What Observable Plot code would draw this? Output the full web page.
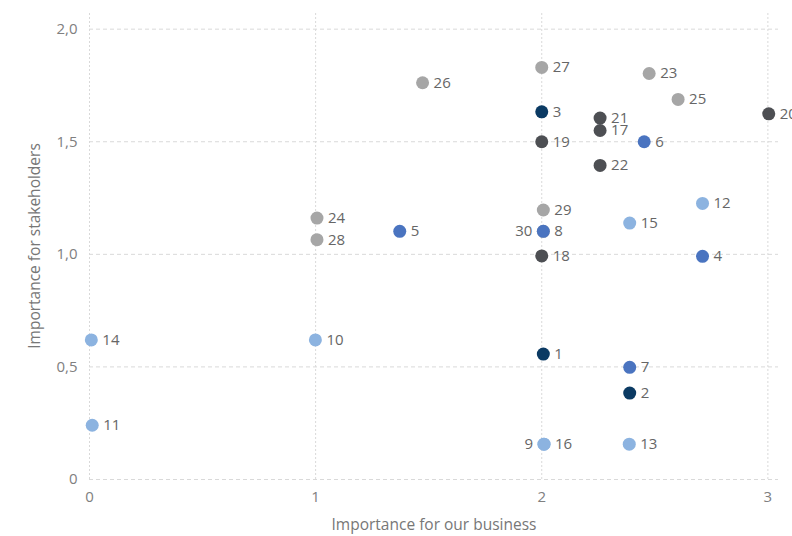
<!DOCTYPE html>
<html>
<head>
<meta charset="utf-8">
<script src="https://cdn.jsdelivr.net/npm/d3@7"></script>
<script src="https://cdn.jsdelivr.net/npm/@observablehq/plot@0.6"></script>
<style>
  html, body { margin: 0; padding: 0; background: #fff; }
  #chart svg { display: block; overflow: visible; }
</style>
</head>
<body>
<div id="chart"></div>
<script>
// Topic ids, business importance (x), stakeholder importance (y), group
const ids      = [1, 2, 3, 4, 5, 6, 7, 8, 9, 10, 11, 12, 13, 14, 15, 16, 17, 18, 19, 20, 21, 22, 23, 24, 25, 26, 27, 28, 29, 30];
const business = [2.007, 2.389, 2.0, 2.711, 1.372, 2.453, 2.389, 2.007, 2.01, 0.999, 0.012, 2.711, 2.387, 0.008, 2.389, 2.01,
                  2.258, 2.0, 2.0, 3.004, 2.258, 2.258, 2.475, 1.006, 2.603, 1.473, 2.0, 1.006, 2.007, 2.007];
const stakeholders = [0.557, 0.384, 1.633, 0.991, 1.102, 1.5, 0.498, 1.102, 0.157, 0.62, 0.241, 1.226, 0.157, 0.62, 1.139, 0.157,
                  1.55, 0.993, 1.5, 1.624, 1.605, 1.395, 1.803, 1.161, 1.688, 1.762, 1.83, 1.065, 1.197, 1.102];
const groups   = ["A","A","A","B","B","B","B","B","C","C","C","C","C","C","C","C",
                  "D","D","D","D","D","D","E","E","E","E","E","E","E","E"];
const leftLabelIds = [9, 30];
const groupNames  = ["A", "B", "C", "D", "E"];
const groupColors = ["#0b3a63", "#4a74c0", "#8cb3e0", "#4d4f53", "#a6a6a6"];
const drawOrder   = ["E", "D", "C", "B", "A"];

const xTicks = [0, 1, 2, 3];
const xTickLabels = ["0", "1", "2", "3"];
const yTicks = [0, 0.5, 1, 1.5, 2];
const yTickLabels = ["0", "0,5", "1,0", "1,5", "2,0"];
const xTitle = "Importance for our business";
const yTitle = "Importance for stakeholders";

const data = ids.map((id, i) => ({id, x: business[i], y: stakeholders[i], g: groups[i], left: leftLabelIds.includes(id)}))
  .sort((a, b) => drawOrder.indexOf(a.g) - drawOrder.indexOf(b.g));

const font = "Open Sans, Lato, sans-serif";

const plot = Plot.plot({
  width: 792,
  height: 536,
  marginLeft: 89,
  marginRight: 14,
  marginTop: 12,
  marginBottom: 57,
  style: {fontFamily: font, fontSize: "15px", color: "#808080", background: "#fff", overflow: "visible"},
  x: {domain: [0, 3.047], ticks: xTicks, tickFormat: (d) => xTickLabels[xTicks.indexOf(d)], tickSize: 0, tickPadding: 12, label: null},
  y: {domain: [0, 2.074], ticks: yTicks, tickFormat: (d) => yTickLabels[yTicks.indexOf(d)], tickSize: 0, tickPadding: 12, label: null},
  color: {domain: groupNames, range: groupColors},
  marks: [
    Plot.gridY(yTicks, {stroke: "#d9d9d9", strokeOpacity: 1, strokeDasharray: "4,3"}),
    Plot.gridX(xTicks, {stroke: "#d9d9d9", strokeOpacity: 1, strokeDasharray: "2,2", y1: 0, y2: 2.074}),
    Plot.dot(data, {x: "x", y: "y", fill: "g", r: 6.5}),
    Plot.text(data.filter(d => !d.left), {x: "x", y: "y", text: "id", dx: 11, textAnchor: "start", fill: "#666", fontSize: 15}),
    Plot.text(data.filter(d => d.left), {x: "x", y: "y", text: "id", dx: -11, textAnchor: "end", fill: "#666", fontSize: 15}),
    Plot.text([xTitle], {frameAnchor: "bottom", text: d => d, dy: 50, fill: "#777", fontSize: 15.5}),
    Plot.text([yTitle], {frameAnchor: "left", textAnchor: "middle", text: d => d, rotate: -90, dx: -54, fill: "#777", fontSize: 15.5})
  ]
});
document.getElementById("chart").appendChild(plot);
</script>
</body>
</html>
